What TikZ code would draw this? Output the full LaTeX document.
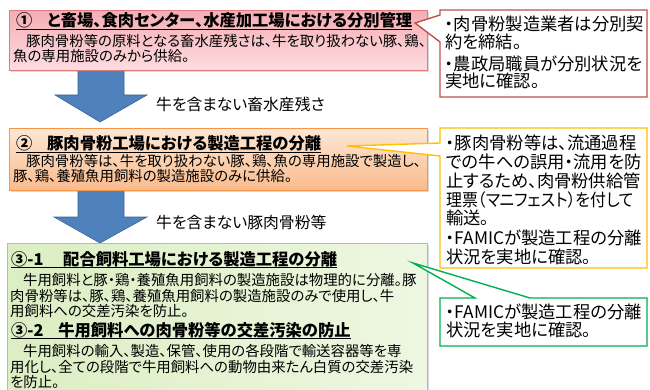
\documentclass[tikz,border=0pt]{standalone}
\usepackage{fontspec}
\usepackage{graphicx}
\setmainfont{Noto Sans CJK JP}[RawFeature={+palt}]
\usetikzlibrary{shadows}
\definecolor{pinkT}{HTML}{F5ADB4}
\definecolor{pinkB}{HTML}{FCDDE0}
\definecolor{pinkE}{HTML}{E07A80}
\definecolor{orT}{HTML}{FDE7D5}
\definecolor{orB}{HTML}{FABB8C}
\definecolor{orE}{HTML}{F79646}
\definecolor{grL}{HTML}{DCEEC3}
\definecolor{grR}{HTML}{EEF7E2}
\definecolor{grE}{HTML}{A9CC7A}
\definecolor{arrowblue}{HTML}{4F81BD}
\definecolor{arrowedge}{HTML}{3A6496}
\definecolor{calloutA}{HTML}{C0504D}
\definecolor{calloutB}{HTML}{FFC000}
\definecolor{calloutC}{HTML}{00B050}
\begin{document}
\begin{tikzpicture}[x=1pt,y=-1pt,
  body/.style={inner sep=0pt, anchor=base west, font=\fontsize{14.4}{16}\selectfont},
  ttl/.style={inner sep=0pt, anchor=base west, font=\fontsize{16.3}{18}\selectfont\bfseries},
  note/.style={inner sep=0pt, anchor=base west, font=\fontsize{17.3}{19}\selectfont},
  lbl/.style={inner sep=0pt, anchor=base west, font=\fontsize{15.8}{17}\selectfont},
  ulin/.style={line width=1.2pt},
  box/.style={rectangle, inner sep=0pt, line width=0.7pt, anchor=north west,
    drop shadow={opacity=0.3, shadow xshift=1.5pt, shadow yshift=-1.5pt}},
  bluearrow/.style={fill=arrowblue, draw=arrowedge, line width=0.6pt},
  callout/.style={fill=white, line width=1.4pt, line join=miter}
]
\useasboundingbox (0,0) rectangle (650,390);

% block arrows
\draw[bluearrow] (78,66) -- (124,66) -- (124,95) -- (147,95) -- (100,122) -- (55,95) -- (78,95) -- cycle;
\draw[bluearrow] (78,186) -- (124,186) -- (124,217) -- (147,217) -- (100,243) -- (54,217) -- (78,217) -- cycle;

% boxes
\node[box, draw=pinkE, top color=pinkT, bottom color=pinkB, minimum width=418pt, minimum height=60pt] (b1) at (9,10) {};
\node[box, draw=orE, top color=orT, bottom color=orB, minimum width=418pt, minimum height=62pt] (b2) at (9,128) {};
\node[box, draw=grE, left color=grL, right color=grR, minimum width=420pt, minimum height=155pt] (b3) at (7,243) {};

% callouts
\draw[callout, draw=calloutA] (440,10) -- (647,10) -- (647,97) -- (440,97) -- (440,42) -- (415,23) -- (440,15) -- cycle;
\draw[callout, draw=calloutB] (440,128) -- (647,128) -- (647,268) -- (440,268) -- (440,156) -- (347,146) -- (440,143) -- cycle;
\draw[callout, draw=calloutC] (440,298) -- (475,298) -- (413,263) -- (530,298) -- (647,298) -- (647,346) -- (440,346) -- cycle;

% box 1 text
\node[ttl] (t1) at (16,27) {①\hspace{0.9em}と畜場、食肉センター、水産加工場における分別管理};
\draw[ulin] ([yshift=-2.5pt]t1.base west) -- ([yshift=-2.5pt]t1.base east);
\node[body] (t1a) at (13,47) {\hspace{0.9em}豚肉骨粉等の原料となる畜水産残さは、牛を取り扱わない豚、鶏、};
\node[body] (t1b) at (13,62) {魚の専用施設のみから供給。};

% box 2 text
\node[ttl] (t2) at (16,150) {②\hspace{0.9em}豚肉骨粉工場における製造工程の分離};
\draw[ulin] ([yshift=-2.5pt]t2.base west) -- ([yshift=-2.5pt]t2.base east);
\node[body] (t2a) at (13,167) {\hspace{0.9em}豚肉骨粉等は、牛を取り扱わない豚、鶏、魚の専用施設で製造し、};
\node[body] (t2b) at (13,182) {豚、鶏、養殖魚用飼料の製造施設のみに供給。};

% box 3 text
\node[ttl] (t3) at (11,265) {③-1\hspace{1.2em}配合飼料工場における製造工程の分離};
\draw[ulin] ([yshift=-2.5pt]t3.base west) -- ([yshift=-2.5pt]t3.base east);
\node[body] (t3a) at (10,285) {\hspace{0.9em}牛用飼料と豚・鶏・養殖魚用飼料の製造施設は物理的に分離。豚};
\node[body] (t3b) at (10,301) {肉骨粉等は、豚、鶏、養殖魚用飼料の製造施設のみで使用し、牛};
\node[body] (t3c) at (10,316) {用飼料への交差汚染を防止。};
\node[ttl] (t4) at (11,336) {③-2\hspace{0.9em}牛用飼料への肉骨粉等の交差汚染の防止};
\draw[ulin] ([yshift=-2.5pt]t4.base west) -- ([yshift=-2.5pt]t4.base east);
\node[body] (t4a) at (10,356) {\hspace{0.9em}牛用飼料の輸入、製造、保管、使用の各段階で輸送容器等を専};
\node[body] (t4b) at (10,372) {用化し、全ての段階で牛用飼料への動物由来たん白質の交差汚染};
\node[body] (t4c) at (10,387) {を防止。};

% arrow labels
\node[lbl] (l1) at (156,111) {牛を含まない畜水産残さ};
\node[lbl] (l2) at (156,228) {牛を含まない豚肉骨粉等};

% callout 1 text
\node[note] (n1a) at (445,31) {・肉骨粉製造業者は分別契};
\node[note] (n1b) at (445,49) {約を締結。};
\node[note] (n1c) at (445,71) {・農政局職員が分別状況を};
\node[note] (n1d) at (445,88) {実地に確認。};

% callout 2 text
\node[note] (n2a) at (446,150) {・豚肉骨粉等は、流通過程};
\node[note] (n2b) at (446,169) {での牛への誤用・流用を防};
\node[note] (n2c) at (446,188) {止するため、肉骨粉供給管};
\node[note] (n2d) at (446,206) {\scalebox{0.92}[1]{理票（マニフェスト）を付して}};
\node[note] (n2e) at (446,224) {輸送。};
\node[note] (n2f) at (446,244) {・FAMICが製造工程の分離};
\node[note] (n2g) at (446,263) {状況を実地に確認。};

% callout 3 text
\node[note] (n3a) at (446,318) {・FAMICが製造工程の分離};
\node[note] (n3b) at (446,336) {状況を実地に確認。};
\end{tikzpicture}
\end{document}
